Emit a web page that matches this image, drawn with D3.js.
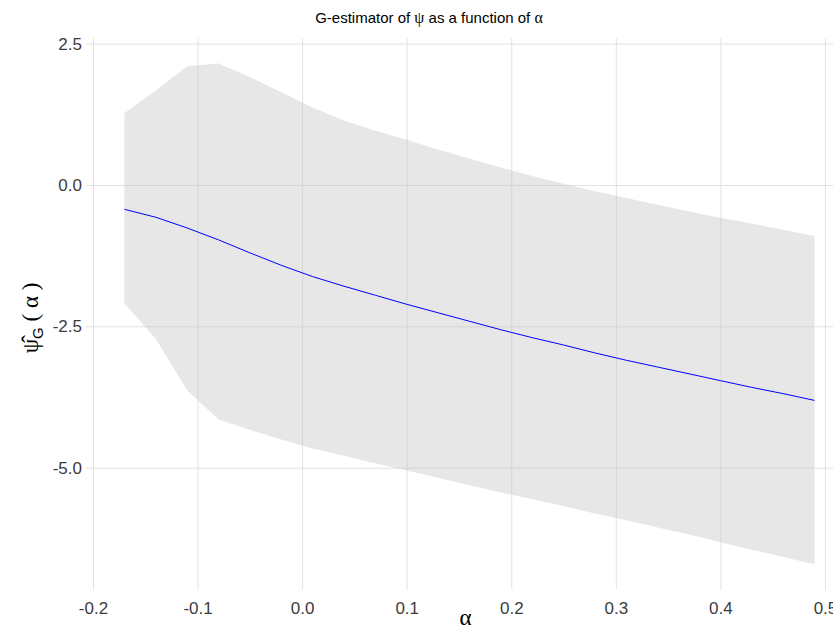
<!DOCTYPE html>
<html>
<head>
<meta charset="utf-8">
<script src="https://cdn.jsdelivr.net/npm/d3@7"></script>
<style>
  html, body { margin: 0; padding: 0; background: #fff; }
  svg { display: block; }
</style>
</head>
<body>
<svg id="chart" width="833" height="629"></svg>
<script>
// ---- data ----
const alphaVals = [-0.17, -0.14, -0.11, -0.08, -0.05, -0.02, 0.01, 0.04, 0.07, 0.10, 0.13, 0.16,
                   0.19, 0.22, 0.25, 0.28, 0.31, 0.34, 0.37, 0.40, 0.43, 0.46, 0.49];
const psiHat = [-0.43, -0.57, -0.76, -0.97, -1.20, -1.42, -1.62, -1.79, -1.95, -2.11, -2.26, -2.41,
                -2.56, -2.70, -2.83, -2.97, -3.10, -3.22, -3.34, -3.46, -3.58, -3.69, -3.81];
const lowerCI = [-2.09, -2.72, -3.63, -4.15, -4.33, -4.50, -4.66, -4.79, -4.92, -5.05, -5.18, -5.31,
                 -5.44, -5.56, -5.68, -5.81, -5.93, -6.06, -6.18, -6.32, -6.45, -6.58, -6.71];
const upperCI = [1.27, 1.67, 2.10, 2.15, 1.91, 1.64, 1.37, 1.14, 0.96, 0.80, 0.63, 0.47,
                 0.31, 0.16, 0.02, -0.11, -0.23, -0.35, -0.47, -0.58, -0.68, -0.79, -0.90];
const xTicks = [-0.2, -0.1, 0.0, 0.1, 0.2, 0.3, 0.4, 0.5];
const yTicks = [2.5, 0.0, -2.5, -5.0];

const rows = alphaVals.map((a, i) => ({ a, psi: psiHat[i], lo: lowerCI[i], hi: upperCI[i] }));

// ---- layout ----
const svg = d3.select("#chart");
const panel = { left: 86, right: 849, top: 38.4, bottom: 589.4 };

const x = d3.scaleLinear().domain([-0.2067, 0.523]).range([panel.left, panel.right]);
const y = d3.scaleLinear().domain([-7.153, 2.593]).range([panel.bottom, panel.top]);

const sans = "'Liberation Sans', Arial, Helvetica, sans-serif";
const serif = "'Liberation Serif', 'Times New Roman', serif";

// gridlines
const gGridX = svg.append("g")
  .attr("transform", `translate(0,${panel.bottom})`)
  .call(d3.axisBottom(x).tickValues(xTicks).tickSize(-(panel.bottom - panel.top)).tickFormat(""));
const gGridY = svg.append("g")
  .attr("transform", `translate(${panel.left},0)`)
  .call(d3.axisLeft(y).tickValues(yTicks).tickSize(-(panel.right - panel.left)).tickFormat(""));
[gGridX, gGridY].forEach(g => {
  g.select(".domain").remove();
  g.selectAll(".tick line").attr("stroke", "#e2e2e2").attr("stroke-width", 1);
});

// ribbon
const area = d3.area()
  .x(d => x(d.a))
  .y0(d => y(d.lo))
  .y1(d => y(d.hi));
svg.append("path")
  .datum(rows)
  .attr("d", area)
  .attr("fill", "#c4c4c4")
  .attr("fill-opacity", 0.4);

// line
const line = d3.line().x(d => x(d.a)).y(d => y(d.psi));
svg.append("path")
  .datum(rows)
  .attr("d", line)
  .attr("fill", "none")
  .attr("stroke", "#0000ff")
  .attr("stroke-width", 1);

// tick labels
const gx = svg.append("g")
  .attr("transform", `translate(0,${panel.bottom})`)
  .call(d3.axisBottom(x).tickValues(xTicks).tickSize(0).tickPadding(13).tickFormat(d3.format(".1f")));
const gy = svg.append("g")
  .attr("transform", `translate(${panel.left},0)`)
  .call(d3.axisLeft(y).tickValues(yTicks).tickSize(0).tickPadding(4).tickFormat(d3.format(".1f")));
[gx, gy].forEach(g => {
  g.select(".domain").remove();
  g.selectAll("text").attr("fill", "#3c3c3c").style("font-family", sans).style("font-size", "17px");
});
gx.selectAll("text").text(d => d3.format(".1f")(d).replace("−", "-"));
gy.selectAll("text").text(d => d3.format(".1f")(d).replace("−", "-"));

// title
const title = svg.append("text")
  .attr("x", 429).attr("y", 23)
  .attr("text-anchor", "middle")
  .style("font-family", sans).style("font-size", "15px").attr("fill", "#000");
title.append("tspan").text("G-estimator of ");
title.append("tspan").style("font-family", serif).style("font-size", "16px").text("ψ");
title.append("tspan").text(" as a function of ");
title.append("tspan").style("font-family", serif).style("font-size", "16px").text("α");

// x axis title
svg.append("text")
  .attr("x", (panel.left + panel.right) / 2 - 2).attr("y", 625)
  .attr("text-anchor", "middle")
  .style("font-family", serif).style("font-size", "23px").attr("fill", "#000")
  .text("α");

// y axis title
const yt = svg.append("text")
  .attr("transform", `translate(38,318) rotate(-90)`)
  .attr("text-anchor", "middle")
  .style("font-family", serif).style("font-size", "23px").attr("fill", "#000");
yt.append("tspan").text("ψ\u0302");
yt.append("tspan").attr("dy", 5).style("font-family", sans).style("font-size", "15px").text("G");
yt.append("tspan").attr("dy", -5).text(" ( α )");
</script>
</body>
</html>
